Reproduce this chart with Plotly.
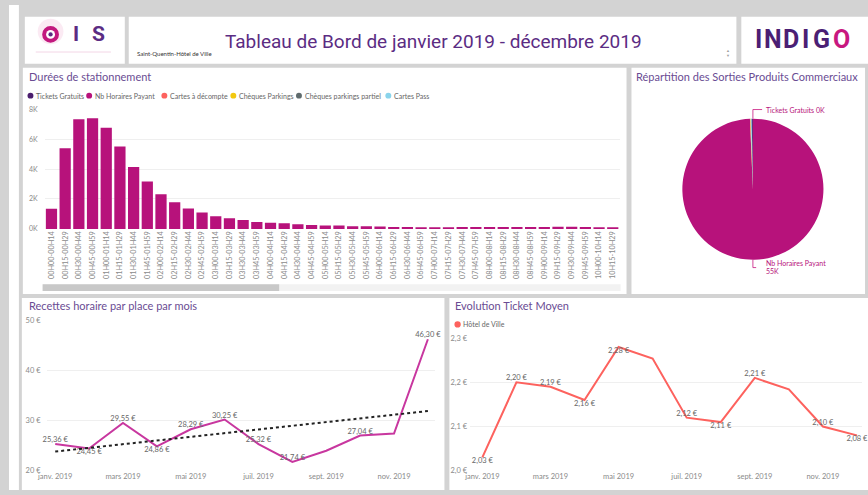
import numpy as np
import plotly.graph_objects as go

W, H = 868, 495

# ---------------- DATA ----------------
duree_labels = [
    "00H00-00H14", "00H15-00H29", "00H30-00H44", "00H45-00H59",
    "01H00-01H14", "01H15-01H29", "01H30-01H44", "01H45-01H59",
    "02H00-02H14", "02H15-02H29", "02H30-02H44", "02H45-02H59",
    "03H00-03H14", "03H15-03H29", "03H30-03H44", "03H45-03H59",
    "04H00-04H14", "04H15-04H29", "04H30-04H44", "04H45-04H59",
    "05H00-05H14", "05H15-05H29", "05H30-05H44", "05H45-05H59",
    "06H00-06H14", "06H15-06H29", "06H30-06H44", "06H45-06H59",
    "07H00-07H14", "07H15-07H29", "07H30-07H44", "07H45-07H59",
    "08H00-08H14", "08H15-08H29", "08H30-08H44", "08H45-08H59",
    "09H00-09H14", "09H15-09H29", "09H30-09H44", "09H45-09H59",
    "10H00-10H14", "10H15-10H29",
]
nb_horaires_payant = [
    1350, 5400, 7330, 7400, 6770, 5520, 4150, 3170, 2310, 1790,
    1370, 1090, 850, 720, 590, 460, 410, 370, 310, 260,
    220, 220, 170, 170, 160, 120, 120, 110, 100, 110,
    120, 120, 130, 130, 130, 130, 120, 140, 140, 120,
    80, 60,
]
bar_ticks = [0, 2000, 4000, 6000, 8000]
bar_ticktext = ["0K", "2K", "4K", "6K", "8K"]

legend_series = ["Tickets Gratuits", "Nb Horaires Payant", "Cartes à décompte",
                 "Chèques Parkings", "Chèques parkings partiel", "Cartes Pass"]
legend_colors = ["#4B1E6E", "#B7127B", "#FD625E", "#F2C80F", "#5F6B6D", "#8AD4EB"]

pie_labels = ["Nb Horaires Payant", "Cartes à décompte", "Chèques Parkings",
              "Cartes Pass", "Tickets Gratuits"]
pie_values = [55000, 40, 60, 120, 150]
pie_colors = ["#B7127B", "#FD625E", "#F2C80F", "#8AD4EB", "#4B1E6E"]

months = ["janv. 2019", "févr. 2019", "mars 2019", "avr. 2019", "mai 2019", "juin 2019",
          "juil. 2019", "août 2019", "sept. 2019", "oct. 2019", "nov. 2019", "déc. 2019"]
month_ticks = ["janv. 2019", "mars 2019", "mai 2019", "juil. 2019", "sept. 2019", "nov. 2019"]

recettes = [25.36, 24.45, 29.55, 24.86, 28.29, 30.25, 25.32, 21.74, 24.00, 27.04, 27.45, 46.30]
recettes_show = [True, True, True, True, True, True, True, True, False, True, False, True]
recettes_pos = ["top center", "bottom center", "top center", "bottom center", "top center",
                "top center", "top center", "top center", "top center", "top center",
                "top center", "top center"]
recettes_ticks = [20, 30, 40, 50]

ticket_moyen = [2.03, 2.20, 2.19, 2.16, 2.28, 2.254, 2.12, 2.11, 2.21, 2.184, 2.10, 2.08]
ticket_show = [True, True, True, True, True, False, True, True, True, False, True, True]
ticket_pos = ["bottom center", "top center", "top center", "bottom center", "bottom center",
              "top center", "top center", "bottom center", "top center", "top center",
              "top center", "bottom center"]
ticket_ticks = [2.0, 2.1, 2.2, 2.3]

# ---------------- HELPERS ----------------
def X(px):
    return px / W

def Y(py):
    return 1 - py / H

FONT = "Segoe UI, Lato, sans-serif"
TITLE_COL = "#6A4C93"
TICK_COL = "#8A8A8A"
GRID_COL = "#EFEFEF"

shapes = []
annotations = []

def rect(x0, y0, x1, y1, color):
    shapes.append(dict(type="rect", xref="paper", yref="paper", x0=X(x0), x1=X(x1),
                       y0=Y(y1), y1=Y(y0), fillcolor=color, line=dict(width=0), layer="below"))

def circle(cx, cy, r, color, layer="above"):
    shapes.append(dict(type="circle", xref="paper", yref="paper", x0=X(cx - r), x1=X(cx + r),
                       y0=Y(cy + r), y1=Y(cy - r), fillcolor=color, line=dict(width=0), layer=layer))

def line(x0, y0, x1, y1, color, width=1):
    shapes.append(dict(type="line", xref="paper", yref="paper", x0=X(x0), x1=X(x1),
                       y0=Y(y0), y1=Y(y1), line=dict(color=color, width=width)))

def text(x, y, t, size, color, xanchor="left", yanchor="middle", family=FONT):
    annotations.append(dict(x=X(x), y=Y(y), xref="paper", yref="paper", text=t, showarrow=False,
                            xanchor=xanchor, yanchor=yanchor,
                            font=dict(size=size, color=color, family=family)))

def eur(v, dec=2):
    return (f"{v:.{dec}f}").replace(".", ",") + " €"

# ---------------- PANELS ----------------
rect(0, 0, 10, H, "white")
rect(16, 12, 117, 60, "white")
rect(121, 12, 735, 60, "white")
rect(740, 12, 868, 60, "white")
rect(14, 64, 624, 295, "white")
rect(629, 64, 865, 295, "white")
rect(13, 299, 440, 495, "white")
rect(445, 299, 868, 495, "white")

# header
text(429, 37, "Tableau de Bord de janvier 2019 - décembre 2019", 19, "#5B2C83",
     xanchor="center", family="Roboto, sans-serif")
text(127, 49, "Saint-Quentin-Hôtel de Ville", 6, "#333333")
text(727, 46, "▲", 4, "#A0A0A0", xanchor="center")
text(727, 52, "▼", 4, "#A0A0A0", xanchor="center")

# OIS logo
circle(42, 27, 13, "#FBEAF3", layer="below")
line(27, 48, 103, 48, "#F3D6E6", 1)
circle(42, 30, 8.5, "#C2187E")
shapes.append(dict(type="path", xref="paper", yref="paper",
                   path=f"M {X(42)},{Y(21.5)} A 1 1 0 0 0 {X(42)},{Y(38.5)} Z",
                   fillcolor="#5B2C83", line=dict(width=0)))
circle(42, 30, 4.5, "white")
circle(42, 30, 2.2, "#5B2C83")
text(68, 30, "<b>I</b>", 21, "#5B2C83", xanchor="center", family="Roboto, sans-serif")
text(90, 30, "<b>S</b>", 21, "#5B2C83", xanchor="center", family="Roboto, sans-serif")

# INDIGO logo
for ch, cx, col in [("I", 757, "#4B1F74"), ("N", 772, "#4B1F74"), ("D", 790, "#4B1F74"),
                    ("I", 805, "#4B1F74"), ("G", 821, "#4B1F74"), ("O", 841, "#C8177F")]:
    text(cx, 35, f"<b>{ch}</b>", 25, col, xanchor="center", family="Roboto, sans-serif")

# titles
text(18, 73, "Durées de stationnement", 11, TITLE_COL)
text(632, 73, "Répartition des Sorties Produits Commerciaux", 11, TITLE_COL)
text(18, 307, "Recettes horaire par place par mois", 11, TITLE_COL)
text(449, 307, "Evolution Ticket Moyen", 11, TITLE_COL)

# bar legend
legend_x = [21.7, 81, 157, 226.7, 293, 383.3]
for name, col, lx in zip(legend_series, legend_colors, legend_x):
    circle(lx, 92.5, 3, col)
    text(lx + 3.8, 92.5, name, 7, "#666666")

# line legend
circle(453.3, 326, 3.2, "#FD625E")
text(457, 326, "Hôtel de Ville", 7, "#666666")

# scrollbar
rect(34, 285, 618, 292, "#F2F2F2")
rect(34, 285, 273, 292, "#C8C8C8")

# pie leader lines + labels
line(751.7, 116, 751.7, 106.7, "#C8177F", 0.8)
line(751.7, 106.7, 761, 106.7, "#C8177F", 0.8)
text(763, 107.5, "Tickets Gratuits 0K", 7, "#B7127B")
line(751.7, 260, 751.7, 268, "#C8177F", 0.8)
line(751.7, 268, 755, 268, "#C8177F", 0.8)
text(763, 263.5, "Nb Horaires Payant", 7, "#B7127B")
text(763, 271.5, "55K", 7, "#B7127B")

# ---------------- TRACES ----------------
fig = go.Figure()

fig.add_trace(go.Bar(x=duree_labels, y=nb_horaires_payant, marker=dict(color="#B7127B", line=dict(width=0)),
                     xaxis="x", yaxis="y", showlegend=False, hoverinfo="x+y"))

fig.add_trace(go.Pie(labels=pie_labels, values=pie_values, sort=False, direction="clockwise",
                     rotation=0, marker=dict(colors=pie_colors, line=dict(width=0)),
                     textinfo="none", showlegend=False,
                     domain=dict(x=[X(679.7), X(823.7)], y=[Y(260), Y(116)])))

rec_text = [eur(v) if s else "" for v, s in zip(recettes, recettes_show)]
fig.add_trace(go.Scatter(x=months, y=recettes, mode="lines+text", text=rec_text,
                         textposition=recettes_pos, textfont=dict(size=7.5, color="#666666", family=FONT),
                         line=dict(color="#C8379F", width=2), xaxis="x2", yaxis="y2",
                         showlegend=False, cliponaxis=False))
idx = np.arange(len(recettes))
slope, intercept = np.polyfit(idx, recettes, 1)
trend = slope * idx + intercept
fig.add_trace(go.Scatter(x=months, y=trend, mode="lines", line=dict(color="#222222", width=2, dash="3px,3px"),
                         xaxis="x2", yaxis="y2", showlegend=False))

tm_text = [eur(v) if s else "" for v, s in zip(ticket_moyen, ticket_show)]
fig.add_trace(go.Scatter(x=months, y=ticket_moyen, mode="lines+text", text=tm_text,
                         textposition=ticket_pos, textfont=dict(size=7.5, color="#666666", family=FONT),
                         line=dict(color="#FD625E", width=2), xaxis="x3", yaxis="y3",
                         showlegend=False, cliponaxis=False))

tickfont = dict(size=7.5, color=TICK_COL, family=FONT)

fig.update_layout(
    width=W, height=H, margin=dict(l=0, r=0, t=0, b=0),
    paper_bgcolor="#D3D3D3", plot_bgcolor="rgba(0,0,0,0)",
    font=dict(family=FONT),
    bargap=0.18,
    xaxis=dict(domain=[X(36), X(617)], anchor="y", type="category", tickangle=-90,
               tickfont=dict(size=7.3, color=TICK_COL, family=FONT), showgrid=False,
               showline=False, ticks="", zeroline=False),
    yaxis=dict(domain=[Y(228.5), Y(106.5)], anchor="x", range=[0, 8000], tickvals=bar_ticks,
               ticktext=bar_ticktext, tickfont=dict(size=7, color=TICK_COL, family=FONT),
               gridcolor=GRID_COL, zeroline=False, showline=False, ticklabelstandoff=6),
    xaxis2=dict(domain=[X(38), X(430)], anchor="y2", type="category", range=[-0.254, 11.196],
                tickvals=month_ticks, ticktext=month_ticks, tickangle=0, tickfont=tickfont,
                showgrid=False, showline=False, ticks="", zeroline=False),
    yaxis2=dict(domain=[Y(475.3), Y(322.3)], anchor="x2", range=[20, 50], tickvals=recettes_ticks,
                ticktext=[eur(v, 0) for v in recettes_ticks], tickfont=tickfont,
                gridcolor=GRID_COL, zeroline=False, showline=False, ticklabelstandoff=5),
    xaxis3=dict(domain=[X(466), X(862)], anchor="y3", type="category", range=[-0.358, 11.15],
                tickvals=month_ticks, ticktext=month_ticks, tickangle=0, tickfont=tickfont,
                showgrid=False, showline=False, ticks="", zeroline=False),
    yaxis3=dict(domain=[Y(475.3), Y(340)], anchor="x3", range=[2.0, 2.3], tickvals=ticket_ticks,
                ticktext=[eur(v, 1) for v in ticket_ticks], tickfont=tickfont,
                gridcolor=GRID_COL, zeroline=False, showline=False, ticklabelstandoff=2),
    shapes=shapes, annotations=annotations,
)

fig.write_html("out.html", config={"displayModeBar": False},
               post_script="document.body.style.margin='0px';document.body.style.overflow='hidden';")
